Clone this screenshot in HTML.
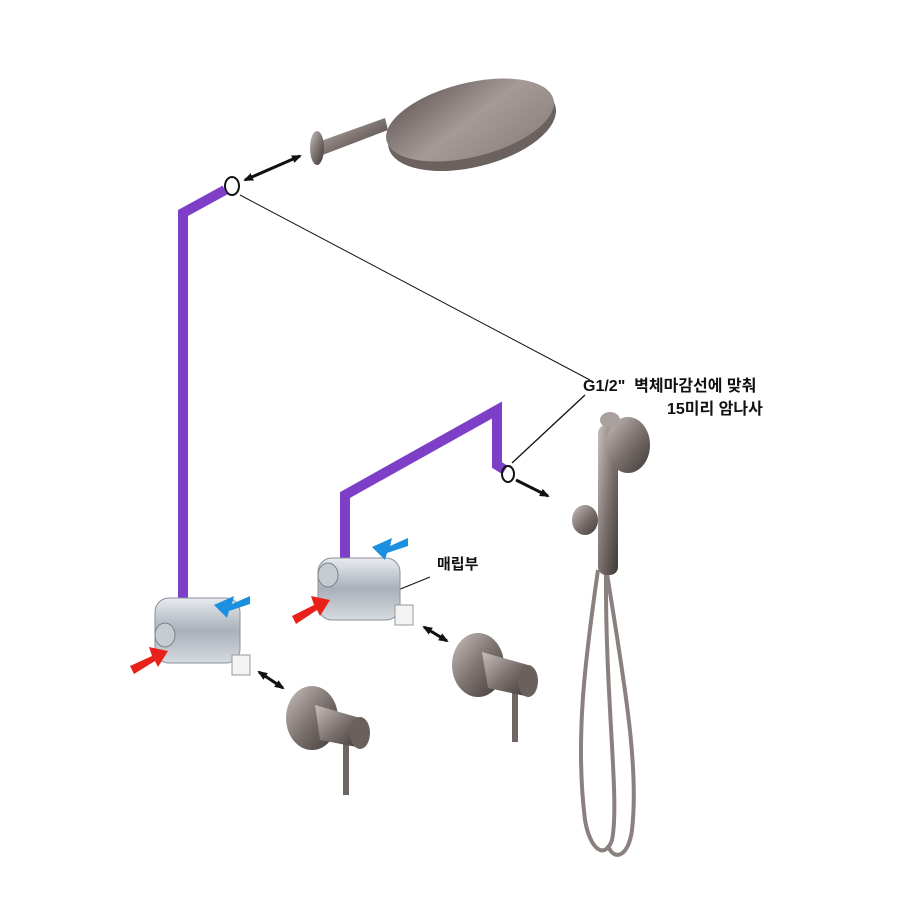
<!DOCTYPE html>
<html><head><meta charset="utf-8"><style>
html,body{margin:0;padding:0;background:#fff;width:910px;height:910px;overflow:hidden}
svg{display:block}
text{font-family:"Liberation Sans","Noto Sans CJK KR",sans-serif;font-weight:bold;fill:#111}
</style></head><body>
<svg width="910" height="910" viewBox="0 0 910 910" xmlns="http://www.w3.org/2000/svg">
<defs>
<linearGradient id="met" x1="0" y1="0" x2="1" y2="1">
<stop offset="0" stop-color="#c9c0bd"/><stop offset="0.5" stop-color="#7d7370"/><stop offset="1" stop-color="#3e3836"/></linearGradient>
<linearGradient id="head" x1="0" y1="0" x2="1" y2="1">
<stop offset="0" stop-color="#5f5552"/><stop offset="0.5" stop-color="#a59a97"/><stop offset="1" stop-color="#8a807d"/></linearGradient>
<linearGradient id="chrome" x1="0" y1="0" x2="0" y2="1">
<stop offset="0" stop-color="#e8ecf0"/><stop offset="0.5" stop-color="#a9b0b8"/><stop offset="1" stop-color="#d6dbe0"/></linearGradient>
<marker id="ah" markerUnits="userSpaceOnUse" markerWidth="10" markerHeight="8" refX="8" refY="4" orient="auto"><path d="M0,0 L10,4 L0,8z" fill="#111"/></marker>
<marker id="ahs" markerUnits="userSpaceOnUse" markerWidth="10" markerHeight="8" refX="8" refY="4" orient="auto-start-reverse"><path d="M0,0 L10,4 L0,8z" fill="#111"/></marker>
</defs>

<!-- shower head -->
<path d="M318,142 L385,118 L388,130 L320,156z" fill="url(#met)"/>
<ellipse cx="317" cy="148" rx="7" ry="17" fill="url(#met)"/>
<ellipse cx="472" cy="127" rx="86" ry="40" transform="rotate(-14 472 127)" fill="#6b615e"/>
<ellipse cx="470" cy="120" rx="86" ry="37" transform="rotate(-14 470 120)" fill="url(#head)"/>

<!-- arrows top -->
<line x1="245" y1="180" x2="300" y2="156" stroke="#111" stroke-width="3" marker-start="url(#ahs)" marker-end="url(#ah)"/>
<ellipse cx="232" cy="186" rx="7" ry="9" fill="none" stroke="#111" stroke-width="2"/>
<line x1="240" y1="195" x2="590" y2="380" stroke="#111" stroke-width="1"/>
<line x1="585" y1="395" x2="512" y2="463" stroke="#111" stroke-width="1.3"/>

<!-- purple pipes -->
<polyline points="183,600 183,213 225,190" fill="none" stroke="#7e3fc8" stroke-width="10"/>
<polyline points="345,565 345,495 497,410 497,465 505,470" fill="none" stroke="#7e3fc8" stroke-width="10"/>
<ellipse cx="508" cy="474" rx="6" ry="8" fill="none" stroke="#111" stroke-width="2"/>
<line x1="516" y1="480" x2="548" y2="496" stroke="#111" stroke-width="3" marker-end="url(#ah)"/>

<!-- labels -->
<text x="583" y="391" font-size="16">G1/2"&#160; 벽체마감선에 맞춰</text>
<text x="667" y="414" font-size="16">15미리 암나사</text>
<text x="437" y="569" font-size="15">매립부</text>
<line x1="430" y1="577" x2="398" y2="590" stroke="#111" stroke-width="1"/>

<!-- valve bodies -->
<rect x="155" y="598" width="85" height="65" rx="14" fill="url(#chrome)" stroke="#8a929a"/>
<ellipse cx="165" cy="635" rx="10" ry="12" fill="#c7ccd2" stroke="#7a828a"/>
<rect x="232" y="655" width="18" height="20" fill="#f3f3f3" stroke="#999"/>
<rect x="318" y="558" width="82" height="62" rx="14" fill="url(#chrome)" stroke="#8a929a"/>
<ellipse cx="328" cy="575" rx="10" ry="12" fill="#c7ccd2" stroke="#7a828a"/>
<rect x="395" y="605" width="18" height="20" fill="#f3f3f3" stroke="#999"/>
<!-- red/blue arrows -->
<path d="M130,666 L152,656 L149,647 L168,651 L158,667 L155,661 L134,674z" fill="#e8221b"/>
<path d="M292,616 L314,605 L311,596 L330,600 L320,616 L317,610 L296,624z" fill="#e8221b"/>
<path d="M250,596 L232,604 L234,596 L214,605 L227,618 L229,611 L250,604z" fill="#1b8fe0"/>
<path d="M408,538 L390,546 L392,538 L372,547 L385,560 L387,553 L408,546z" fill="#1b8fe0"/>
<line x1="259" y1="672" x2="283" y2="688" stroke="#111" stroke-width="3" marker-start="url(#ahs)" marker-end="url(#ah)"/>
<line x1="424" y1="627" x2="447" y2="641" stroke="#111" stroke-width="3" marker-start="url(#ahs)" marker-end="url(#ah)"/>

<!-- handles -->
<rect x="343" y="740" width="6" height="55" fill="#6f6663"/>
<ellipse cx="312" cy="718" rx="26" ry="32" fill="url(#met)"/>
<path d="M315,705 L360,718 L362,748 L320,740z" fill="url(#met)"/>
<ellipse cx="360" cy="733" rx="10" ry="16" fill="#6a605d"/>
<rect x="512" y="690" width="6" height="52" fill="#6f6663"/>
<ellipse cx="478" cy="665" rx="26" ry="32" fill="url(#met)"/>
<path d="M482,652 L528,665 L530,697 L488,688z" fill="url(#met)"/>
<ellipse cx="528" cy="681" rx="10" ry="16" fill="#6a605d"/>

<!-- hand shower -->
<path d="M598,570 C585,660 575,740 585,820 C590,850 605,860 612,840 C620,800 605,700 606,570" fill="none" stroke="#8a807d" stroke-width="4"/>
<path d="M605,560 C620,660 640,760 632,830 C628,860 612,860 608,845" fill="none" stroke="#8a807d" stroke-width="4"/>
<ellipse cx="585" cy="520" rx="13" ry="15" fill="url(#met)"/>
<rect x="598" y="425" width="20" height="150" rx="8" fill="url(#met)"/>
<ellipse cx="628" cy="445" rx="22" ry="28" fill="url(#met)"/>
<ellipse cx="610" cy="420" rx="10" ry="8" fill="#aaa09d"/>
</svg>
</body></html>
